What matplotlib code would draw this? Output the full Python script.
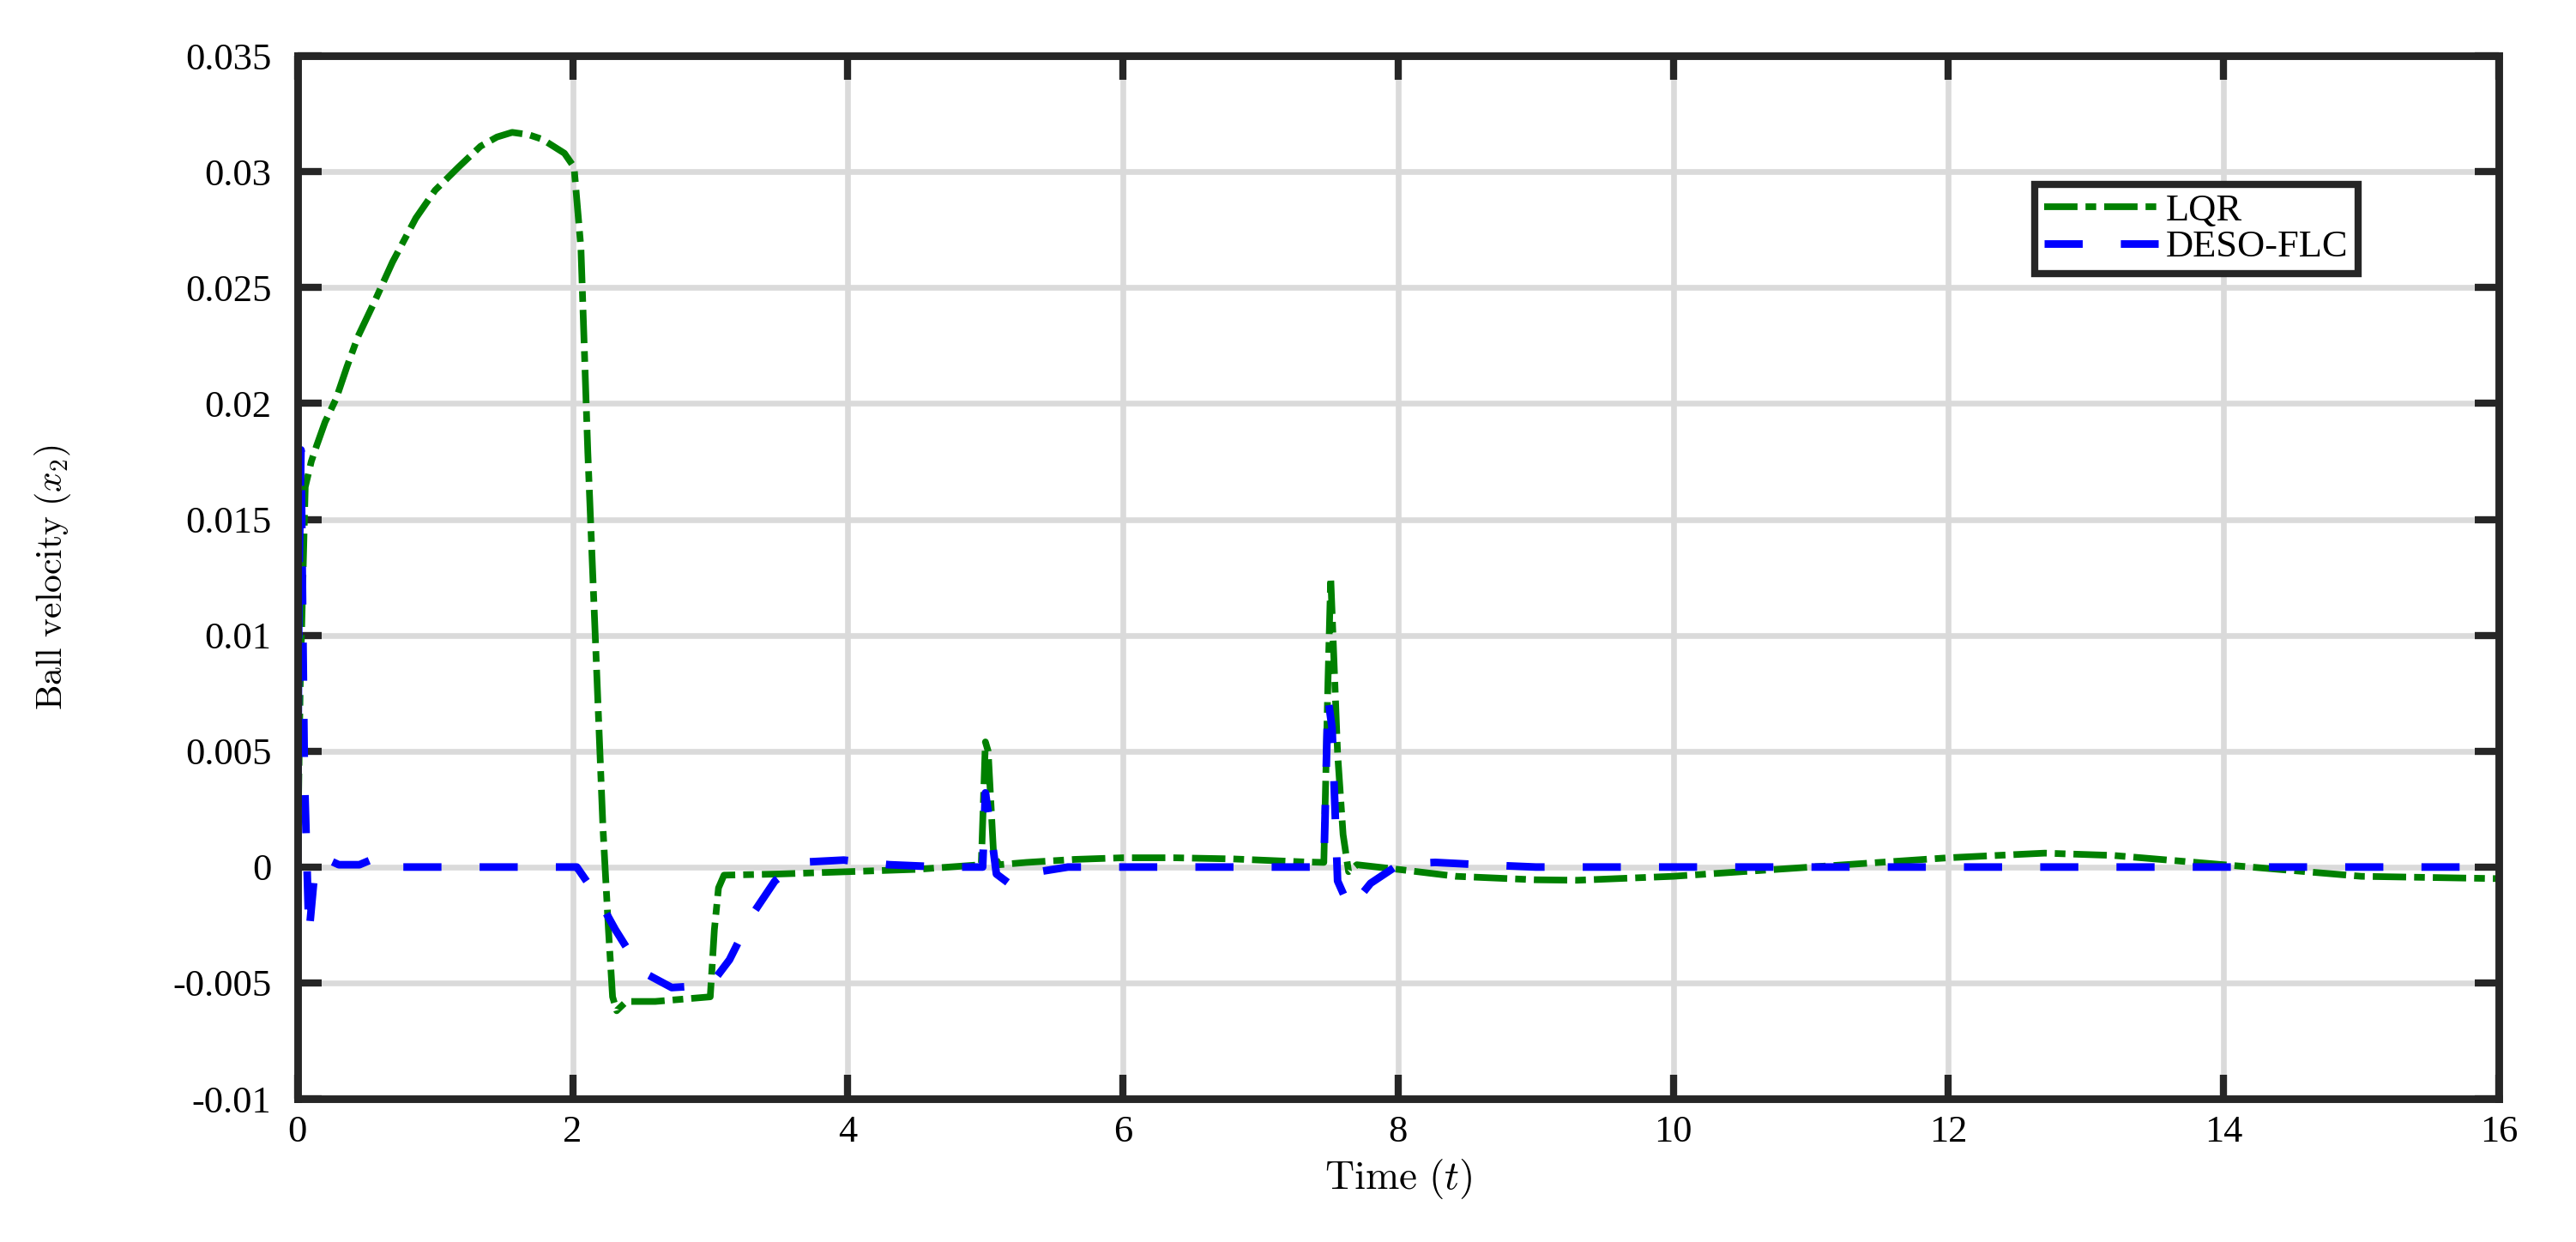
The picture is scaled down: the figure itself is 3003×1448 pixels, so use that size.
import matplotlib
matplotlib.use("Agg")
import matplotlib.pyplot as plt

#---------Data--------
lqr_t = [0, 0.02, 0.056, 0.1, 0.14, 0.2, 0.28, 0.36, 0.44, 0.56, 0.69, 0.86, 1.0, 1.17, 1.33, 1.45,
         1.56, 1.68, 1.78, 1.94, 2.01, 2.06, 2.11, 2.17, 2.22, 2.26, 2.29, 2.32, 2.39, 2.6, 2.8, 3.0,
         3.03, 3.06, 3.1, 3.5, 4.0, 4.5, 4.97, 5.0, 5.02, 5.06, 5.1, 5.3, 5.65, 6.0, 6.37, 6.8, 7.32,
         7.46, 7.49, 7.51, 7.56, 7.6, 7.64, 7.7, 8.0, 8.42, 9.0, 9.3, 10.0, 10.5, 11.0, 11.5, 12.0,
         12.7, 13.2, 13.8, 14.2, 15.0, 16.0]
lqr_v = [0, 0.008, 0.0164, 0.0175, 0.0182, 0.0192, 0.0202, 0.0216, 0.0229, 0.0244, 0.0261, 0.0280,
         0.0292, 0.0302, 0.0311, 0.0315, 0.0317, 0.0316, 0.0314, 0.0308, 0.0302, 0.0267, 0.0179,
         0.0091, 0.0017, -0.0027, -0.0056, -0.0062, -0.0058, -0.0058, -0.0057, -0.0056, -0.0027,
         -0.0009, -0.00035, -0.0003, -0.0002, -0.0001, 0.0001, 0.0054, 0.005, 0.0005, 0.0001, 0.0002,
         0.00033, 0.0004, 0.0004, 0.00035, 0.00022, 0.0002, 0.008, 0.0125, 0.0049, 0.0014, -0.0002,
         0.0001, -0.0001, -0.0004, -0.00055, -0.00057, -0.0004, -0.0002, 0.0, 0.0002, 0.0004, 0.0006,
         0.0005, 0.0002, 0.0, -0.0004, -0.0005]

deso_t = [0, 0.01, 0.025, 0.05, 0.083, 0.12, 0.15, 0.19, 0.3, 0.45, 0.57, 0.65, 0.8, 2.0, 2.03, 2.17,
          2.31, 2.5, 2.72, 3.0, 3.14, 3.3, 3.47, 3.64, 3.97, 4.3, 4.7, 4.98, 5.0, 5.03, 5.08, 5.17,
          5.39, 5.6, 7.46, 7.49, 7.52, 7.56, 7.65, 7.8, 8.01, 8.27, 8.6, 9.0, 16.0]
deso_v = [0, 0.012, 0.018, 0.004, -0.0029, -0.0005, 0.0002, 0.0004, 0.0001, 0.0001, 0.0004, 0.0,
          0.0, 0.0, 0.0, -0.0012, -0.0027, -0.0045, -0.0052, -0.0051, -0.004, -0.0021, -0.0006,
          0.0002, 0.0003, 0.0001, 0.0, 0.0, 0.0032, 0.002, -0.0003, -0.0007, -0.0002, 0.0, 0.0,
          0.0073, 0.006, -0.0006, -0.0018, -0.0007, 0.00013, 0.0002, 0.0001, 0.0, 0.0]

x_ticks = [0, 2, 4, 6, 8, 10, 12, 14, 16]
y_ticks = [-0.01, -0.005, 0, 0.005, 0.01, 0.015, 0.02, 0.025, 0.03, 0.035]
y_labels = ["-0.01", "-0.005", "0", "0.005", "0.01", "0.015", "0.02", "0.025", "0.03", "0.035"]

#---------Plot--------
plt.rcParams['font.family'] = ['Liberation Serif', 'DejaVu Serif']
plt.rcParams['mathtext.fontset'] = 'cm'

fig = plt.figure(figsize=(15.015, 7.24), dpi=200)
ax = fig.add_axes([0.1155, 0.1153, 0.8545, 0.8397])

ax.plot(lqr_t, lqr_v, color='#008000', lw=2.8, linestyle=(0, (5, 1.2, 1.6, 1.2)), label='LQR')
ax.plot(deso_t, deso_v, color='#0000ff', lw=3.2, linestyle=(0, (5, 5)), label='DESO-FLC')

ax.set_xlim(0, 16)
ax.set_ylim(-0.01, 0.035)
ax.set_xticks(x_ticks)
ax.set_yticks(y_ticks)
ax.set_yticklabels(y_labels)

ax.grid(True, color='#dadada', lw=2.4)
ax.set_axisbelow(True)
ax.tick_params(direction='in', length=10, width=3, top=True, right=True,
               labelsize=16, colors='#262626', labelcolor='black')
ax.tick_params(axis='y', pad=11)
ax.tick_params(axis='x', pad=7)
for s in ax.spines.values():
    s.set_linewidth(3.2)
    s.set_color('#262626')

ax.set_xlabel(r"$\mathrm{Time}\ (t)$", fontsize=17, labelpad=3)
ax.set_ylabel(r"$\mathrm{Ball\ velocity}\ (x_2)$", fontsize=15)
ax.yaxis.set_label_coords(-0.102, 0.5)

leg = ax.legend(loc='upper right', bbox_to_anchor=(0.936, 0.877), fontsize=16, fancybox=False,
                framealpha=1, edgecolor='#262626', handlelength=3.0, handletextpad=0.2,
                borderpad=0.25, labelspacing=0.05, borderaxespad=0)
leg.get_frame().set_linewidth(3)

fig.savefig('out.png', dpi=200)
